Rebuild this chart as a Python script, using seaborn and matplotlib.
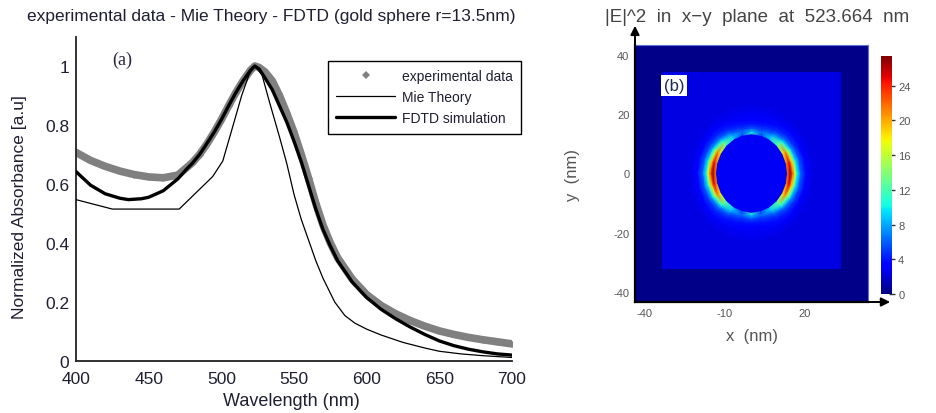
import numpy as np
import pandas as pd
import matplotlib
matplotlib.use("Agg")
import matplotlib.pyplot as plt
import seaborn as sns
from matplotlib.lines import Line2D

# ---------------- data: panel (a) ----------------
exp_wl = [400, 410, 420, 430, 440, 450, 460, 470, 476, 480, 485, 490, 495, 500, 505, 510,
          515, 520, 523, 526, 530, 535, 540, 545, 550, 555, 560, 565, 570, 575, 580, 590,
          600, 610, 620, 630, 640, 650, 660, 670, 680, 690, 700]
exp_abs = [0.707, 0.680, 0.660, 0.644, 0.632, 0.624, 0.621, 0.630, 0.655, 0.672, 0.700, 0.735,
           0.775, 0.818, 0.865, 0.910, 0.950, 0.985, 1.000, 0.995, 0.980, 0.950, 0.900, 0.840,
           0.775, 0.700, 0.620, 0.535, 0.460, 0.400, 0.350, 0.278, 0.225, 0.188, 0.160, 0.137,
           0.118, 0.102, 0.090, 0.080, 0.072, 0.065, 0.058]

fdtd_wl = [400, 410, 420, 430, 436, 445, 450, 460, 470, 476, 480, 485, 490, 495, 500, 505,
           510, 515, 520, 523, 526, 530, 535, 540, 545, 550, 555, 560, 565, 570, 575, 580,
           590, 600, 610, 620, 630, 640, 650, 660, 670, 680, 690, 700]
fdtd_abs = [0.642, 0.596, 0.567, 0.552, 0.547, 0.550, 0.555, 0.577, 0.617, 0.650, 0.670, 0.700,
            0.737, 0.775, 0.818, 0.865, 0.910, 0.950, 0.985, 1.000, 0.990, 0.960, 0.920, 0.865,
            0.810, 0.745, 0.675, 0.595, 0.515, 0.445, 0.390, 0.340, 0.268, 0.215, 0.175, 0.143,
            0.115, 0.090, 0.068, 0.052, 0.040, 0.031, 0.024, 0.020]

mie_wl = [400, 425, 471, 494, 501, 507, 514, 519, 523, 528, 533, 540, 545, 550, 555, 560, 565,
          570, 578, 585, 592, 600, 610, 625, 640, 650, 665, 680, 700]
mie_abs = [0.547, 0.515, 0.515, 0.625, 0.678, 0.780, 0.900, 0.970, 1.000, 0.970, 0.880, 0.760,
           0.670, 0.565, 0.480, 0.410, 0.340, 0.280, 0.200, 0.154, 0.128, 0.108, 0.088, 0.063,
           0.044, 0.033, 0.024, 0.018, 0.012]

ytick_vals = [0, 0.2, 0.4, 0.6, 0.8, 1.0]
ytick_labels = ["0", "0.2", "0.4", "0.6", "0.8", "1"]
xtick_vals = [400, 450, 500, 550, 600, 650, 700]
legend_labels = ["experimental data", "Mie Theory", "FDTD simulation"]

# ---------------- data: panel (b) |E|^2 map ----------------
bg_x_edges = [-43.5, -33.3, 33.4, 43.5]
bg_y_edges = [-43.5, -32.2, 34.3, 43.5]
bg_values = [[0.3, 0.3, 0.3],
             [0.3, 2.4, 0.3],
             [0.3, 0.3, 0.3]]
# polar read-out of the ring: angle (deg, first quadrant) x radius (nm)
ring_r = [0.0, 13.2, 13.5, 14.5, 15.5, 16.3, 17.1, 18.4, 20.3, 23.5]
ring_theta_q = [0, 15, 30, 45, 60, 75, 90]
ring_vals_q = [
    [2.8, 2.8, 22.0, 27.0, 22.0, 17.0, 10.0, 6.0, 3.6, 2.4],
    [2.8, 2.8, 21.0, 25.0, 19.0, 14.0, 9.0, 5.6, 3.5, 2.4],
    [2.8, 2.8, 18.0, 21.0, 15.0, 10.5, 7.2, 5.0, 3.3, 2.4],
    [2.8, 2.8, 12.0, 13.0, 10.0, 7.5, 5.8, 4.4, 3.1, 2.4],
    [2.8, 2.8, 9.0, 8.5, 6.5, 5.4, 4.5, 3.8, 2.9, 2.4],
    [2.8, 2.8, 5.0, 6.0, 5.0, 4.4, 3.9, 3.4, 2.8, 2.4],
    [2.8, 2.8, 11.0, 8.0, 5.5, 4.5, 3.8, 3.3, 2.8, 2.4],
]
cbar_ticks = [0, 4, 8, 12, 16, 20, 24]
cbar_max = 27.4
hx_xticks = [-40, -10, 20]
hx_yticks = [-40, -20, 0, 20, 40]

# ---------------- style ----------------
sns.set_theme(style="white")
plt.rcParams["font.family"] = ["Liberation Sans", "DejaVu Sans"]
plt.rcParams["axes.unicode_minus"] = False
txt = "#1f1f33"
W, H = 936, 414
fig = plt.figure(figsize=(W / 100, H / 100), dpi=100)

def fx(px):
    return px / W

def fy(py):
    return 1 - py / H

# ---------------- panel (a) ----------------
ax = fig.add_axes([fx(76), fy(362), fx(436), 324.5 / H])
sns.lineplot(x=exp_wl, y=exp_abs, ax=ax, color="#808080", lw=5.5, marker="D",
             markersize=3.5, markeredgewidth=0, solid_capstyle="round", zorder=2)
sns.lineplot(x=fdtd_wl, y=fdtd_abs, ax=ax, color="black", lw=2.4, zorder=3)
sns.lineplot(x=mie_wl, y=mie_abs, ax=ax, color="black", lw=0.9, zorder=4)
ax.set_xlim(400, 700)
ax.set_ylim(0, 1.1)
ax.set_xticks(xtick_vals)
ax.set_yticks(ytick_vals)
ax.set_yticklabels(ytick_labels)
for s in ["top", "right"]:
    ax.spines[s].set_visible(False)
for s in ["left", "bottom"]:
    ax.spines[s].set_color("#222222")
    ax.spines[s].set_linewidth(1.3)
ax.tick_params(direction="in", length=4, width=1, colors="#222222", labelsize=12.5,
               labelcolor=txt)
ax.tick_params(axis="x", pad=7)
ax.tick_params(axis="y", pad=5)
ax.set_xlabel("")
ax.set_ylabel("")
ax.patch.set_alpha(0)

fig.text(fx(271), fy(17), "experimental data - Mie Theory - FDTD (gold sphere r=13.5nm)",
         ha="center", va="center", fontsize=12.5, color=txt)
fig.text(fx(291), fy(402), "Wavelength (nm)", ha="center", va="center", fontsize=13, color=txt)
fig.text(fx(20), fy(207), "Normalized Absorbance [a.u]", ha="center", va="center",
         rotation=90, fontsize=12.5, color=txt)
fig.text(fx(122), fy(60), "(a)", ha="center", va="center", fontsize=13, color="#2a2440",
         family=["Liberation Serif", "DejaVu Serif"])

handles = [Line2D([], [], color="#808080", marker="D", ls="none", markersize=4.5,
                  markeredgewidth=0),
           Line2D([], [], color="black", lw=0.9),
           Line2D([], [], color="black", lw=2.4)]
leg = fig.legend(handles, legend_labels, loc="upper left",
                 bbox_to_anchor=(fx(328), fy(62)), borderaxespad=0, frameon=True,
                 fancybox=False, edgecolor="black", fontsize=10, handlelength=4.25,
                 borderpad=0.6, labelspacing=0.5, handletextpad=0.45, framealpha=1)
leg.get_frame().set_linewidth(1.0)
for t in leg.get_texts():
    t.set_color(txt)

# ---------------- panel (b) ----------------
hx = fig.add_axes([fx(635), fy(303), fx(233), 257 / H])
cmap = "jet"
bg = hx.pcolormesh(bg_x_edges, bg_y_edges, np.array(bg_values), cmap=cmap, vmin=0,
                   vmax=cbar_max, shading="flat")
q = [list(r) for r in ring_vals_q]
full_vals = np.array(q[0:7] + q[5::-1] + q[1:7] + q[5::-1])
theta = np.deg2rad(np.arange(0, 361, 15))
T, R = np.meshgrid(theta, np.array(ring_r), indexing="ij")
hx.pcolormesh(R * np.cos(T), R * np.sin(T), full_vals, cmap=cmap, vmin=0, vmax=cbar_max,
              shading="gouraud")
hx.set_xlim(-43.5, 43.5)
hx.set_ylim(-43.5, 43.5)
hx.set_aspect("auto")
hx.set_xticks(hx_xticks)
hx.set_yticks(hx_yticks)
hx.tick_params(length=0, labelsize=8, labelcolor="#555555", pad=4)
for s in ["left", "bottom"]:
    hx.spines[s].set_color("black")
    hx.spines[s].set_linewidth(1.6)
for s in ["top", "right"]:
    hx.spines[s].set_color("#6070d8")
    hx.spines[s].set_linewidth(0.8)
hx.annotate("", xy=(0, 1.075), xycoords="axes fraction", xytext=(0, 0.99),
            arrowprops=dict(arrowstyle="-|>", color="black", lw=1.4, mutation_scale=13,
                            shrinkA=0, shrinkB=0))
hx.annotate("", xy=(1.095, 0), xycoords="axes fraction", xytext=(0.99, 0),
            arrowprops=dict(arrowstyle="-|>", color="black", lw=1.4, mutation_scale=13,
                            shrinkA=0, shrinkB=0))
hx.text(0.125, 0.842, "(b)", transform=hx.transAxes, ha="left", va="center", fontsize=12,
        color="#1a2a55", bbox=dict(facecolor="white", edgecolor="none", pad=2.0))

cax = fig.add_axes([fx(881), fy(295), fx(11), 238 / H])
cb = fig.colorbar(bg, cax=cax, ticks=cbar_ticks)
cb.outline.set_visible(False)
cax.tick_params(direction="inout", length=5, width=1, colors="#333333", labelsize=8,
                labelcolor="#555555", pad=2)

fig.text(fx(757), fy(17), "|E|^2  in  x\u2212y  plane  at  523.664  nm", ha="center",
         va="center", fontsize=13.5, color="#444444")
fig.text(fx(752), fy(337), "x  (nm)", ha="center", va="center", fontsize=12, color="#555555")
fig.text(fx(572), fy(175), "y  (nm)", ha="center", va="center", rotation=90, fontsize=12,
         color="#555555")

fig.savefig("out.png", dpi=100)
